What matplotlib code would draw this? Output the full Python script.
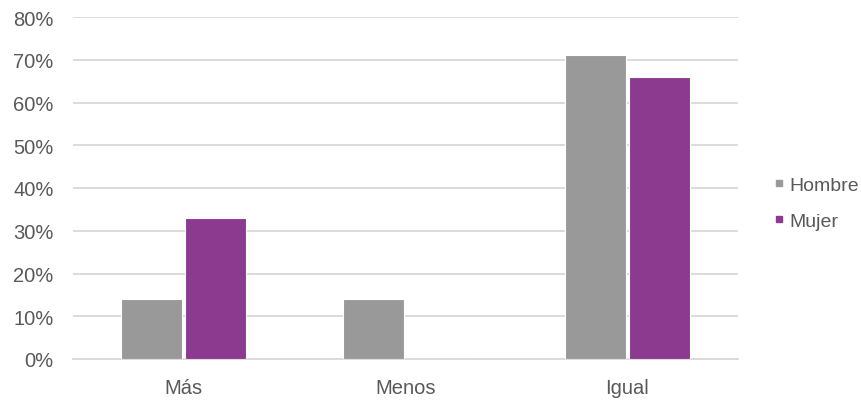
import matplotlib
matplotlib.use("Agg")
import matplotlib.pyplot as plt
from matplotlib.lines import Line2D
import numpy as np

plt.rcParams['font.family'] = ['Liberation Sans', 'DejaVu Sans']

categories = ["Más", "Menos", "Igual"]
hombre = [14, 14, 71]
mujer = [33, 0, 66]
yticks = [0, 10, 20, 30, 40, 50, 60, 70, 80]
series_names = ["Hombre", "Mujer"]
colors = ["#999999", "#8b3a8f"]
text_color = "#595959"

fig = plt.figure(figsize=(8.61, 4.10), dpi=100)
ax = fig.add_axes([73/861, 50/410, 665/861, 342/410])

x = np.arange(len(categories))
w = 0.275
ax.bar(x - w/2 - 0.007, hombre, width=w, color=colors[0], edgecolor="white", linewidth=0.8, zorder=3)
ax.bar(x + w/2 + 0.007, mujer, width=w, color=colors[1], edgecolor="white", linewidth=0.8, zorder=3)

ax.set_xlim(-0.5, 2.5)
ax.set_ylim(0, 80)
ax.set_yticks(yticks)
ax.set_yticklabels([f"{t}%" for t in yticks])
ax.set_xticks(x)
ax.set_xticklabels(categories)
ax.yaxis.grid(True, color="#d9d9d9", linewidth=1.3, zorder=0)
ax.set_axisbelow(True)
for s in ["top", "right", "left"]:
    ax.spines[s].set_visible(False)
ax.spines["bottom"].set_color("#d9d9d9")
ax.spines["bottom"].set_linewidth(1.3)
ax.tick_params(axis="both", length=0, labelsize=14.5, colors=text_color)
ax.tick_params(axis="y", pad=14)
ax.tick_params(axis="x", pad=14)

handles = [Line2D([0], [0], marker="s", linestyle="none", markersize=4.5,
                  markerfacecolor=c, markeredgecolor=c) for c in colors]
fig.legend(handles, series_names, loc="center left", bbox_to_anchor=(774.5/861, 1 - 204/410),
           frameon=False, fontsize=14, labelcolor=text_color, handletextpad=0.25,
           labelspacing=0.95, handlelength=0.5, borderpad=0, borderaxespad=0)

fig.savefig("out.png", dpi=100, facecolor="white")
